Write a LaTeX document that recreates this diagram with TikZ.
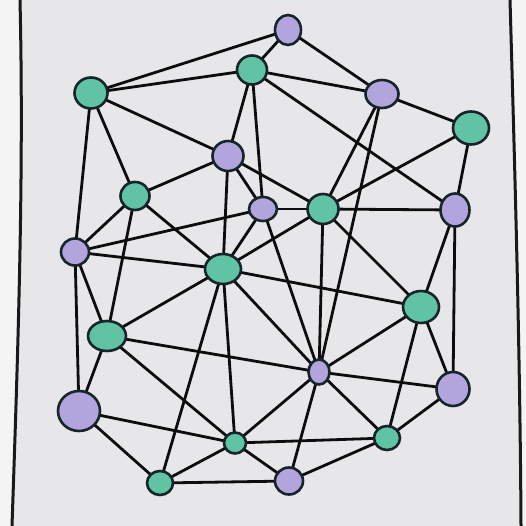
\documentclass[tikz,border=0pt]{standalone}
\usetikzlibrary{shapes.geometric}
\pgfdeclarelayer{bgl}
\pgfdeclarelayer{edgel}
\pgfsetlayers{bgl,edgel,main}
\definecolor{paper}{HTML}{E7E7EA}
\definecolor{outside}{HTML}{F4F4F4}
\definecolor{mint}{HTML}{60C3A3}
\definecolor{lilac}{HTML}{B2A5DD}
\definecolor{rim}{HTML}{17252A}
\tikzset{
  vtx/.style={ellipse, draw=rim, line width=2.6pt, inner sep=0pt},
  gn/.style={vtx, fill=mint},
  pn/.style={vtx, fill=lilac},
  edge/.style={line width=2.8pt, draw=black!95},
  framel/.style={line width=3pt, draw=black!90}
}
\begin{document}
\begin{tikzpicture}[x=1pt,y=-1pt]
\useasboundingbox (0,0) rectangle (526,526);
\begin{pgfonlayer}{bgl}
  \fill[outside] (0,0) rectangle (526,526);
  \fill[paper] (20,0) .. controls (24,175) and (18,350) .. (12,526) -- (521,526) .. controls (520,350) and (515,175) .. (510,0) -- cycle;
  \draw[framel] (20,0) .. controls (24,175) and (18,350) .. (12,526);
  \draw[framel] (510,0) .. controls (515,175) and (520,350) .. (521,526);
\end{pgfonlayer}
% nodes
\node[pn, minimum width=26pt, minimum height=30pt] (A) at (288,30) {};
\node[gn, minimum width=30pt, minimum height=29pt] (B) at (252,70) {};
\node[gn, minimum width=33pt, minimum height=31pt] (C) at (91,93) {};
\node[pn, minimum width=33pt, minimum height=28pt] (D) at (382,94) {};
\node[gn, minimum width=36pt, minimum height=33pt] (E) at (471,128) {};
\node[pn, minimum width=31pt, minimum height=30pt] (F) at (228,156) {};
\node[gn, minimum width=29pt, minimum height=28pt] (G) at (135,196) {};
\node[pn, minimum width=28pt, minimum height=24pt] (H) at (263,209) {};
\node[gn, minimum width=31pt, minimum height=30pt] (I) at (323,209) {};
\node[pn, minimum width=29pt, minimum height=33pt] (J) at (455,210) {};
\node[pn, minimum width=28pt, minimum height=27pt] (K) at (75,252) {};
\node[gn, minimum width=36pt, minimum height=30pt] (L) at (223,269) {};
\node[gn, minimum width=36pt, minimum height=32pt] (M) at (421,307) {};
\node[gn, minimum width=38pt, minimum height=30pt] (N) at (107,336) {};
\node[pn, minimum width=21pt, minimum height=25pt] (O) at (319,372) {};
\node[pn, minimum width=33pt, minimum height=34pt] (P) at (453,389) {};
\node[pn, minimum width=42pt, minimum height=40pt] (Q) at (79,411) {};
\node[gn, minimum width=22pt, minimum height=21pt] (R) at (235,443) {};
\node[gn, minimum width=26pt, minimum height=24pt] (S) at (387,438) {};
\node[gn, minimum width=26pt, minimum height=24pt] (T) at (160,483) {};
\node[pn, minimum width=28pt, minimum height=27pt] (U) at (289,481) {};
% edges
\begin{pgfonlayer}{edgel}
\foreach \a/\b in {A/C,A/B,A/D,
  B/C,B/D,B/F,B/H,B/J,
  C/F,C/G,C/K,
  D/E,D/I,D/O,
  E/J,E/I,
  F/G,F/H,F/I,F/L,
  G/K,G/L,G/N,
  H/I,H/K,H/L,H/O,
  I/J,I/L,I/O,I/M,
  J/M,J/P,
  K/L,K/N,K/Q,
  L/M,L/N,L/O,L/R,L/T,
  M/O,M/P,M/S,
  N/O,N/Q,N/R,
  O/P,O/R,O/U,O/S,
  P/S,
  Q/R,Q/T,
  R/S,R/T,R/U,
  S/U,T/U}
  \draw[edge] (\a.center) -- (\b.center);
\end{pgfonlayer}
\end{tikzpicture}
\end{document}
